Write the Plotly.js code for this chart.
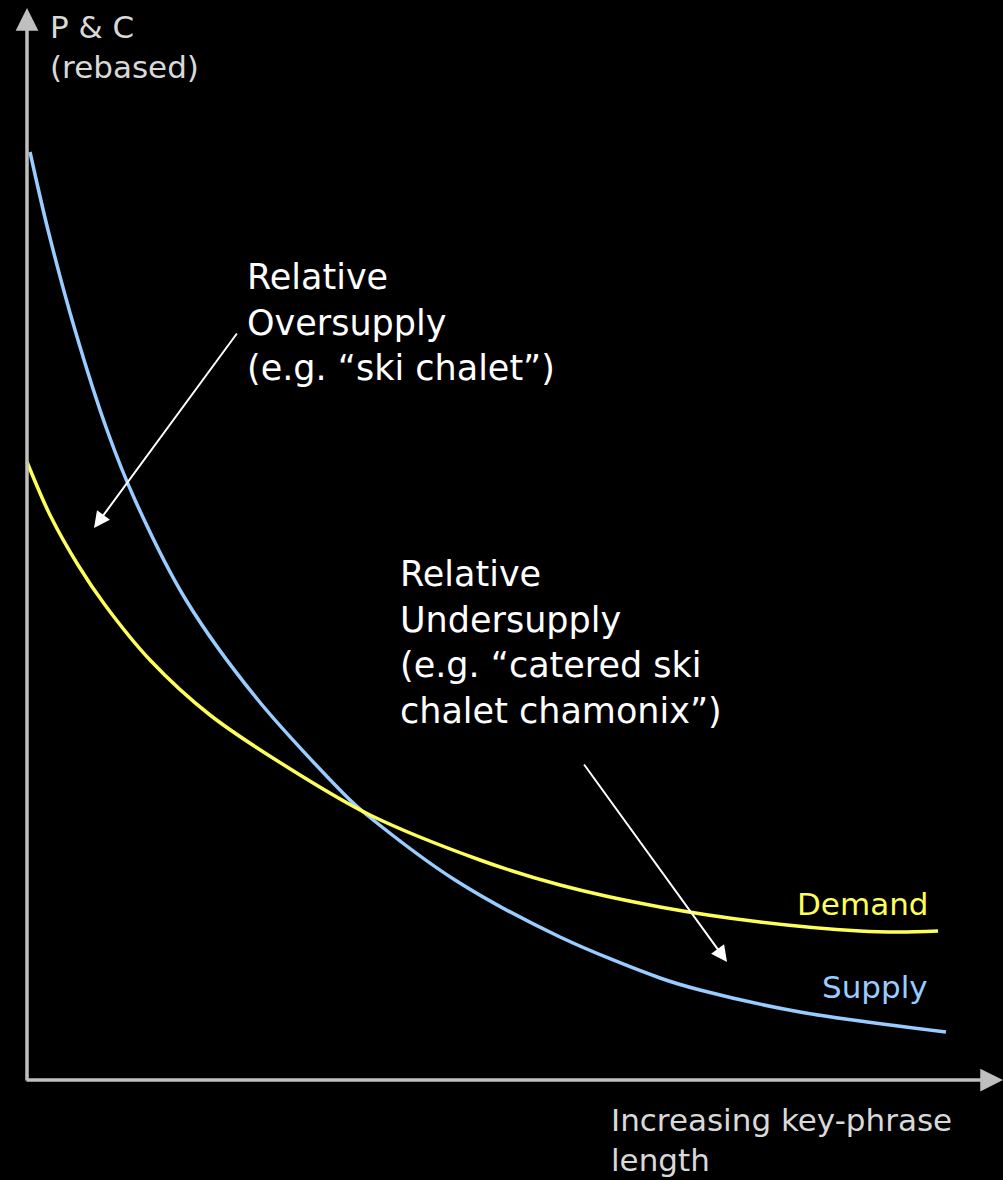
<!DOCTYPE html>
<html>
<head>
<meta charset="utf-8">
<script src="https://cdn.plot.ly/plotly-3.0.1.min.js"></script>
<style>html,body{margin:0;padding:0;background:#000;}#chart{width:1003px;height:1180px;}</style>
</head>
<body>
<div id="chart"></div>
<script>
// Values (arbitrary units: x = key-phrase length, y = P & C rebased)
const supplyX = [3, 21, 48, 80, 108, 159, 231, 323, 340, 428, 533, 633, 673, 773, 919];
const supplyY = [928, 850, 750, 650, 580, 480, 380, 280, 265, 200, 143, 102, 90, 68, 48];
const demandX = [0, 23, 51, 78, 123, 183, 273, 343, 453, 533, 633, 733, 833, 873, 911];
const demandY = [618, 565, 515, 475, 420, 365, 305, 265, 220, 195, 173, 158, 149, 148, 149];

const seriesNames = ["Supply", "Demand"];
const yAxisLabel = "P & C<br>(rebased)";
const xAxisLabel = "Increasing key-phrase<br>length";
const overLabel = "Relative<br>Oversupply<br>(e.g. “ski chalet”)";
const underLabel = "Relative<br>Undersupply<br>(e.g. “catered ski<br>chalet chamonix”)";

// arrow endpoints (tip, tail) in data units
const overArrow = {tip: [67, 552], tail: [211, 748]};
const underArrow = {tip: [700, 118], tail: [556, 317]};
const axisExtent = {xMax: 976, yMax: 1072};

const FONT = "DejaVu Sans, Arial, sans-serif";
const BLUE = "#99ccff";
const YELLOW = "#ffff5a";
const GREY = "#bfbfbf";

const traces = [
  {x: supplyX, y: supplyY, name: seriesNames[0], mode: "lines",
   line: {color: BLUE, width: 3.5, shape: "spline", smoothing: 0.9}, hoverinfo: "skip"},
  {x: demandX, y: demandY, name: seriesNames[1], mode: "lines",
   line: {color: YELLOW, width: 3.5, shape: "spline", smoothing: 0.9}, hoverinfo: "skip"}
];

const arrowAnn = (tip, tail, color, width, size) => ({
  x: tip[0], y: tip[1], ax: tail[0], ay: tail[1], xref: "x", yref: "y", axref: "x", ayref: "y",
  text: "", showarrow: true, arrowhead: 2, arrowsize: size, arrowwidth: width, arrowcolor: color
});

const textAnn = (x, y, text, color, size) => ({
  x: x, y: y, xref: "x", yref: "y", text: text, showarrow: false, xanchor: "left", yanchor: "middle",
  align: "left", font: {family: FONT, size: size, color: color}
});

const layout = {
  width: 1003, height: 1180,
  margin: {l: 0, r: 0, t: 0, b: 0, pad: 0},
  paper_bgcolor: "#000", plot_bgcolor: "#000",
  showlegend: false, hovermode: false,
  xaxis: {range: [-27, 976], visible: false, fixedrange: true},
  yaxis: {range: [-100, 1080], visible: false, fixedrange: true},
  annotations: [
    arrowAnn([0, axisExtent.yMax], [0, -2], GREY, 3.5, 1.3),
    arrowAnn([axisExtent.xMax, 0], [-2, 0], GREY, 3.5, 1.3),
    arrowAnn(overArrow.tip, overArrow.tail, "#ffffff", 2, 1.6),
    arrowAnn(underArrow.tip, underArrow.tail, "#ffffff", 2, 1.6),
    textAnn(21, 1033, yAxisLabel, "#d9d9d9", 31),
    textAnn(582, -60, xAxisLabel, "#d9d9d9", 31),
    textAnn(218, 758, overLabel, "#ffffff", 35),
    textAnn(371, 438, underLabel, "#ffffff", 35),
    textAnn(768, 176, seriesNames[1], YELLOW, 31),
    textAnn(793, 93, seriesNames[0], BLUE, 31)
  ]
};

Plotly.newPlot("chart", traces, layout, {displayModeBar: false, staticPlot: true});
</script>
</body>
</html>
